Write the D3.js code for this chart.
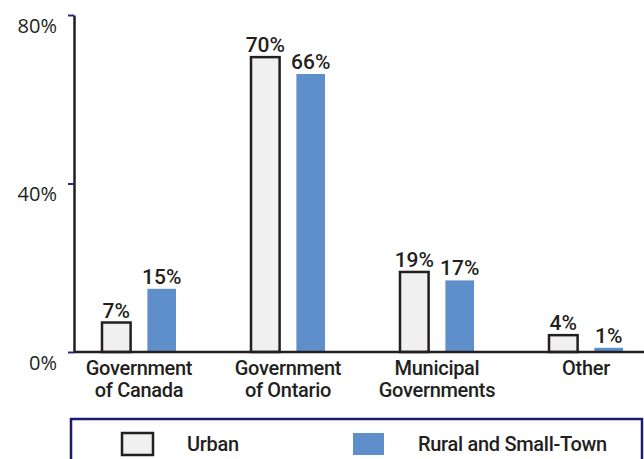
<!DOCTYPE html>
<html>
<head>
<meta charset="utf-8">
<script src="https://cdn.jsdelivr.net/npm/d3@7"></script>
<style>
  body { margin: 0; background: #fff; }
  text { fill: #231f20; }
</style>
</head>
<body>
<div id="chart"></div>
<script>
// data
var categories = ["Government of Canada", "Government of Ontario", "Municipal Governments", "Other"];
var seriesNames = ["Urban", "Rural and Small-Town"];
var urban = [7, 70, 19, 4];
var rural = [15, 66, 17, 1];
var yTicks = [0, 40, 80];

var colors = { "Urban": "#f0f0f0", "Rural and Small-Town": "#5f8fcb" };
var narrow = "Roboto, 'Liberation Sans Narrow', sans-serif";

var width = 644, height = 459;
var svg = d3.select("#chart").append("svg")
    .attr("width", width)
    .attr("height", height);

function labelStyle(sel) {
    sel.style("font-family", narrow)
        .style("font-size", "20px")
        .style("font-weight", 500)
        .style("letter-spacing", "-0.3px")
        .attr("fill", "#231f20");
}

var axisX = 74;
var y = d3.scaleLinear().domain([0, 80]).range([352, 15]);
var x0 = d3.scaleBand().domain(categories).range([64.5, 660.5]).padding(0);
var x1 = d3.scaleBand().domain(seriesNames).range([37.5, 111.5]).paddingInner(0.37).paddingOuter(0);

var rows = categories.map(function(c, i) {
    return { cat: c, values: [
        { key: "Urban", value: urban[i] },
        { key: "Rural and Small-Town", value: rural[i] }
    ]};
});

// bars
var groups = svg.append("g").selectAll("g")
    .data(rows)
    .enter().append("g")
    .attr("transform", function(d) { return "translate(" + x0(d.cat) + ",0)"; });

groups.selectAll("rect")
    .data(function(d) { return d.values; })
    .enter().append("rect")
    .attr("x", function(d) { return x1(d.key); })
    .attr("y", function(d) { return y(d.value); })
    .attr("width", x1.bandwidth())
    .attr("height", function(d) { return y(0) - y(d.value); })
    .attr("fill", function(d) { return colors[d.key]; })
    .attr("stroke", function(d) { return d.key === "Urban" ? "#231f20" : "none"; })
    .attr("stroke-width", 2.5);

groups.selectAll("text.val")
    .data(function(d) { return d.values; })
    .enter().append("text")
    .attr("class", "val")
    .attr("x", function(d) { return x1(d.key) + x1.bandwidth() / 2; })
    .attr("y", function(d) { return y(d.value) - 5; })
    .attr("text-anchor", "middle")
    .call(labelStyle)
    .style("font-size", "21px")
    .style("letter-spacing", "0px")
    .text(function(d) { return d.value + "%"; });

// y axis
var yAxis = svg.append("g")
    .attr("transform", "translate(" + axisX + ",0)")
    .call(d3.axisLeft(y).tickValues(yTicks).tickSize(6).tickSizeOuter(0)
        .tickFormat(function(d) { return d + "%"; }));
yAxis.select(".domain").attr("stroke", "#231f20").attr("stroke-width", 2.5);
yAxis.selectAll(".tick line").attr("stroke", "#2b2b7a").attr("stroke-width", 2);
yAxis.selectAll(".tick text")
    .attr("x", -17)
    .attr("dy", "0.85em")
    .style("font-family", "'Open Sans', sans-serif")
    .style("font-size", "20px")
    .attr("fill", "#231f20");

// x axis baseline
svg.append("line")
    .attr("x1", axisX)
    .attr("x2", width)
    .attr("y1", y(0))
    .attr("y2", y(0))
    .attr("stroke", "#231f20")
    .attr("stroke-width", 2.5);

// category labels
var xAxis = svg.append("g")
    .attr("transform", "translate(0," + y(0) + ")")
    .call(d3.axisBottom(x0).tickSize(0).tickFormat(""));
xAxis.select(".domain").remove();
xAxis.selectAll(".tick").each(function(d) {
    var words = d.split(" ");
    var lines = words.length > 1 ? [words[0], words.slice(1).join(" ")] : [d];
    var t = d3.select(this).append("text")
        .attr("text-anchor", "middle")
        .call(labelStyle);
    lines.forEach(function(l, i) {
        t.append("tspan").attr("x", 0).attr("y", 23 + i * 22).text(l);
    });
});

// legend
var legend = svg.append("g");
legend.append("rect")
    .attr("x", 71).attr("y", 419)
    .attr("width", 571).attr("height", 60)
    .attr("fill", "none")
    .attr("stroke", "#1c1c6e")
    .attr("stroke-width", 2.5);

var legendX = [122, 353];
seriesNames.forEach(function(s, i) {
    legend.append("rect")
        .attr("x", legendX[i]).attr("y", 433)
        .attr("width", 31).attr("height", 22)
        .attr("fill", colors[s])
        .attr("stroke", s === "Urban" ? "#231f20" : "none")
        .attr("stroke-width", 2.5);
    legend.append("text")
        .attr("x", legendX[i] + 65).attr("y", 451)
        .call(labelStyle)
        .text(s);
});
</script>
</body>
</html>
